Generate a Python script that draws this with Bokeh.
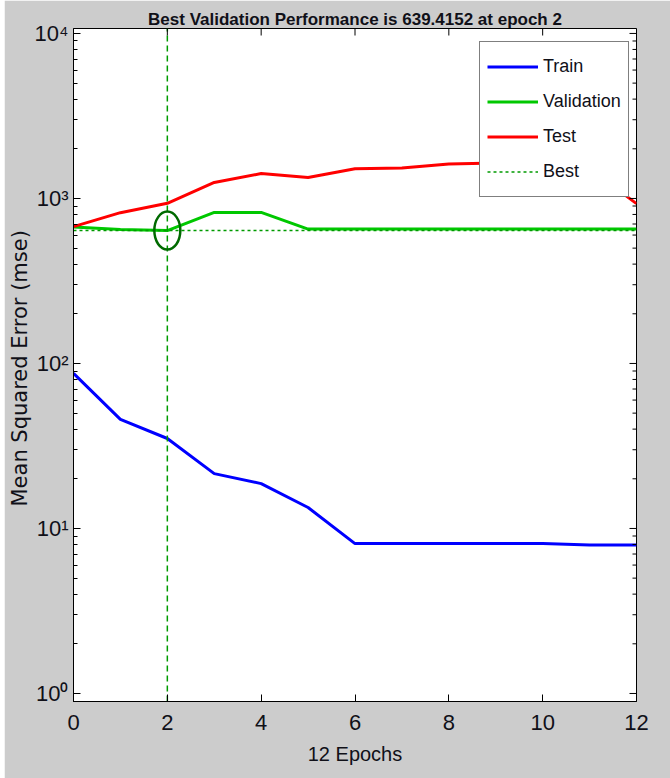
import math
from bokeh.plotting import figure
from bokeh.models import Range1d, Legend, LegendItem, Spacer
from bokeh.layouts import row
from bokeh.embed import file_html
from bokeh.resources import INLINE

# ---- data ----
epochs = [0, 1, 2, 3, 4, 5, 6, 7, 8, 9, 10, 11, 12]
train = [87, 45.8, 35.1, 21.5, 18.7, 13.4, 8.1, 8.1, 8.1, 8.1, 8.1, 7.95, 7.95]
validation = [672, 648, 639, 823, 823, 652, 652, 652, 652, 652, 652, 652, 652]
test = [675, 820, 935, 1250, 1415, 1340, 1515, 1530, 1620, 1640, 1600, 1520, 930]
best_epoch = 2
best_perf = 639
x_ticks = [0, 2, 4, 6, 8, 10, 12]
y_major_ticks = [1, 10, 100, 1000, 10000]
y_minor_ticks = [2, 3, 4, 5, 6, 7, 8, 9,
                 20, 30, 40, 50, 60, 70, 80, 90,
                 200, 300, 400, 500, 600, 700, 800, 900,
                 2000, 3000, 4000, 5000, 6000, 7000, 8000, 9000]
y_tick_labels = {1: "10⁰", 10: "10¹", 100: "10²", 1000: "10³", 10000: "10⁴"}
title_text = "Best Validation Performance is 639.4152 at epoch 2"
x_label = "12 Epochs"
y_label = "Mean Squared Error  (mse)"
series_names = ["Train", "Validation", "Test", "Best"]

X_MIN, X_MAX = 0, 12
Y_MIN, Y_MAX = 0.894, 10715

NARROW = "Liberation Sans Narrow, Liberation Sans, Arial, sans-serif"
GRAY = "#cccccc"
TXT = "#101018"

p = figure(width=666, height=778, y_axis_type="log",
           x_range=Range1d(X_MIN, X_MAX), y_range=Range1d(Y_MIN, Y_MAX),
           output_backend="svg", toolbar_location=None,
           min_border_left=69, min_border_right=34, min_border_top=28, min_border_bottom=77,
           background_fill_color="white", border_fill_color=GRAY,
           outline_line_color="black", outline_line_width=1)
p.xgrid.visible = False
p.ygrid.visible = False

p.title.text = title_text
p.title.align = "center"
p.title.text_font = NARROW
p.title.text_font_size = "17px"
p.title.text_font_style = "bold"
p.title.text_color = TXT
p.title.standoff = 0

r_train = p.line(epochs, train, line_color="#0000ff", line_width=3)
r_val = p.line(epochs, validation, line_color="#00c800", line_width=3)
r_test = p.line(epochs, test, line_color="#ff0000", line_width=3)
r_best_h = p.line([X_MIN, X_MAX], [best_perf, best_perf], line_color="#009a00",
                  line_width=1.5, line_dash="3 3")
p.line([best_epoch, best_epoch], [Y_MIN, Y_MAX], line_color="#009a00",
       line_width=1.5, line_dash="6 4")
p.ellipse(x=[best_epoch], y=[best_perf], width=26, height=38,
          width_units="screen", height_units="screen",
          fill_color=None, line_color="#006a00", line_width=2.5)

# mirrored inward ticks on the top and right edges (clipped to the frame)
p.scatter(x=x_ticks, y=[Y_MAX] * len(x_ticks), marker="dash", angle=math.pi / 2,
          size=14, line_color="black", line_width=1)
p.scatter(x=[X_MAX] * len(y_major_ticks), y=y_major_ticks, marker="dash",
          size=14, line_color="black", line_width=1)
p.scatter(x=[X_MAX] * len(y_minor_ticks), y=y_minor_ticks, marker="dash",
          size=8, line_color="black", line_width=1)

xa = p.xaxis[0]
xa.ticker = x_ticks
xa.axis_line_color = "black"
xa.major_tick_in = 7
xa.major_tick_out = 0
xa.minor_tick_in = 0
xa.minor_tick_out = 0
xa.major_label_text_font = NARROW
xa.major_label_text_font_size = "22px"
xa.major_label_text_color = TXT
xa.major_label_standoff = 13
xa.axis_label = x_label
xa.axis_label_text_font = NARROW
xa.axis_label_text_font_size = "20px"
xa.axis_label_text_font_style = "normal"
xa.axis_label_text_color = TXT
xa.axis_label_standoff = 10

ya = p.yaxis[0]
ya.axis_line_color = "black"
ya.major_tick_in = 7
ya.major_tick_out = 0
ya.minor_tick_in = 4
ya.minor_tick_out = 0
ya.major_label_text_font = NARROW
ya.major_label_text_font_size = "22px"
ya.major_label_text_color = TXT
ya.major_label_standoff = 5
ya.major_label_overrides = y_tick_labels
ya.axis_label = y_label
ya.axis_label_text_font = "DejaVu Sans"
ya.axis_label_text_font_size = "21px"
ya.axis_label_text_font_style = "normal"
ya.axis_label_text_color = TXT
ya.axis_label_standoff = 0

legend = Legend(items=[LegendItem(label=series_names[0], renderers=[r_train]),
                       LegendItem(label=series_names[1], renderers=[r_val]),
                       LegendItem(label=series_names[2], renderers=[r_test]),
                       LegendItem(label=series_names[3], renderers=[r_best_h])],
                location=(406, 504), glyph_width=51, glyph_height=35, label_height=35,
                spacing=0, padding=7, margin=0, label_standoff=5,
                label_text_font=NARROW, label_text_font_size="18px",
                label_text_color=TXT,
                border_line_color="black", border_line_width=1,
                background_fill_color="white", background_fill_alpha=1.0)
p.add_layout(legend)

layout = row(Spacer(width=4, height=778), p)
open("out.html", "w").write(file_html(layout, INLINE))
